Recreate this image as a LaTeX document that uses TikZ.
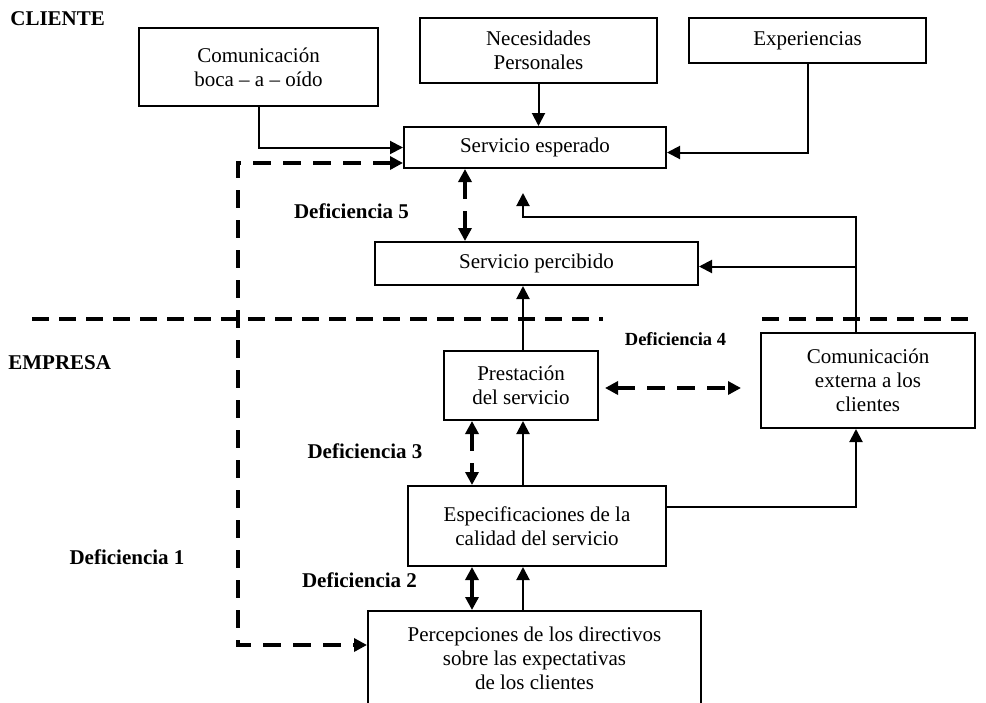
\documentclass[tikz,border=0pt]{standalone}
\usepackage{fontspec}
\setmainfont{Liberation Serif}
\usetikzlibrary{arrows.meta,calc}
\begin{document}
\begin{tikzpicture}[x=0.5pt,y=-0.5pt,
  box/.style={draw, line width=1pt, align=center, inner sep=0pt,
    font=\fontsize{10.5}{12}\selectfont},
  arr/.style={line width=1pt, -{Triangle[length=6.5pt,width=6.5pt]}},
  gap/.style={line width=2pt, dash pattern=on 9pt off 6pt,
    {Triangle[length=6.5pt,width=6.5pt]}-{Triangle[length=6.5pt,width=6.5pt]}},
  divider/.style={line width=2pt, dash pattern=on 8.5pt off 5pt},
  lbl/.style={inner sep=0pt, font=\bfseries\fontsize{10.5}{12}\selectfont},
]
\useasboundingbox (0,0) rectangle (986,702);
\clip (0,0) rectangle (986,702);

% labels
\node[lbl, anchor=west] (cli) at (10,19) {CLIENTE};
\node[lbl, anchor=west] (emp) at (8,363) {EMPRESA};
\node[lbl] (d5) at (351.5,211) {Deficiencia 5};
\node[lbl, font=\bfseries\fontsize{9.25}{11}\selectfont] (d4) at (675.5,339) {Deficiencia 4};
\node[lbl] (d3) at (365,451) {Deficiencia 3};
\node[lbl] (d2) at (359.5,580) {Deficiencia 2};
\node[lbl] (d1) at (127,557) {Deficiencia 1};

% boxes
\node[box, minimum width=119.5pt, minimum height=39pt] (A) at (258.5,67) {Comunicación\\boca – a – oído};
\node[box, minimum width=118.5pt, minimum height=32.5pt] (B) at (538.5,50.5) {Necesidades\\Personales};
\node[box, minimum width=118.5pt, minimum height=22.5pt] (C) at (807.5,40.5) {Experiencias};
\node[box, minimum width=131pt, minimum height=20.5pt] (D) at (535,147.5) {Servicio esperado};
\node[box, minimum width=161.5pt, minimum height=21.5pt] (E) at (536.5,263.5) {Servicio percibido};
\node[box, minimum width=77pt, minimum height=34.5pt] (F) at (521,385.5) {Prestación\\del servicio};
\node[box, minimum width=107pt, minimum height=47.5pt] (G) at (868,380.5) {Comunicación\\externa a los\\clientes};
\node[box, minimum width=129pt, minimum height=40pt] (H) at (537,526) {Especificaciones de la\\calidad del servicio};
\node[box, minimum width=166.5pt, minimum height=47pt] (I) at (534.5,658) {Percepciones de los directivos\\sobre las expectativas\\de los clientes};

% helper coordinates
\coordinate (xg) at (238,645);
\coordinate (xd5) at (465,0);
\coordinate (xd3) at (472,0);
\coordinate (xs) at (523,0);
\coordinate (xr) at (856,217);
\coordinate (tip) at (523,193);

% divider
\draw[divider] (32,319) -- (603,319);
\draw[divider] (762,319) -- (975,319);

% connectors
\draw[arr] (A.south) |- (D.west);
\draw[arr] (B.south) -- (B.south |- D.north);
\draw[arr] (C.south) |- ($(D.east)+(0,5)$);
\draw[gap] ($(D.west)+(0,15.5)$) -| (xg) -- (xg -| I.west);
\draw[gap] (D.south -| xd5) -- (E.north -| xd5);
\draw[arr] (G.north -| xr) -- (xr) -| (tip);
\draw[arr] (G.north -| xr) |- ($(E.east)+(0,3)$);
\draw[arr] (F.north -| xs) -- (E.south -| xs);
\draw[gap] ($(F.east)+(6,2.5)$) -- ($(G.west |- F.east)+(-19,2.5)$);
\draw[gap] (F.south -| xd3) -- (H.north -| xd3);
\draw[arr] (H.north -| xs) -- (F.south -| xs);
\draw[gap] (H.south -| xd3) -- (I.north -| xd3);
\draw[arr] (I.north -| xs) -- (H.south -| xs);
\draw[arr] ($(H.north east)+(0,22)$) -| (G.south -| xr);
\end{tikzpicture}
\end{document}
